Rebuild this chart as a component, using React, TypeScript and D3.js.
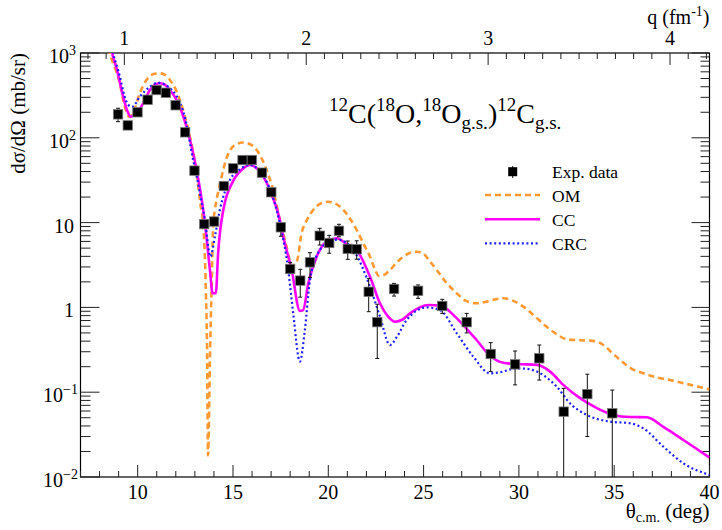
import { useMemo } from 'react'
import * as d3 from 'd3'

// experimental points: theta (deg), cross section (mb/sr), error bar bounds
const expTheta = [8.97, 9.48, 9.99, 10.52, 10.99, 11.48, 11.99, 12.49, 12.98, 13.49, 14.01, 14.52, 15.01, 15.5, 15.99, 16.52, 17.01, 17.51, 18.0, 18.53, 19.04, 19.55, 20.05, 20.56, 21.02, 21.49, 22.12, 22.57, 23.45, 24.71, 25.98, 27.26, 28.52, 29.8, 31.07, 32.35, 33.59, 34.9]
const expSigma = [189, 140, 200, 281, 366, 340, 242, 116, 41, 9.6, 10.3, 27, 43.6, 54.7, 54.7, 38.8, 22.8, 8.8, 2.84, 2.07, 3.4, 7.0, 5.75, 8.0, 4.9, 4.85, 1.53, 0.67, 1.65, 1.57, 1.04, 0.67, 0.282, 0.213, 0.251, 0.059, 0.095, 0.0564]
const expLow = [155, 130, 186, 262, 340, 316, 225, 108, 38, 8.9, 9.5, 25, 40.5, 51, 51, 36, 21, 6.9, 2.5, 1.32, 2.26, 5.44, 4.35, 6.82, 3.69, 3.7, 0.89, 0.25, 1.36, 1.28, 0.85, 0.5, 0.175, 0.122, 0.139, 0.0001, 0.03, 0.0001]
const expHigh = [223, 150, 214, 300, 392, 364, 259, 124, 44, 10.3, 11.1, 29, 46.7, 58.5, 58.5, 41.5, 24.6, 9.8, 3.4, 2.81, 4.42, 8.57, 7.08, 9.55, 6.07, 6.1, 2.2, 1.09, 1.92, 1.84, 1.245, 0.85, 0.384, 0.306, 0.36, 0.111, 0.163, 0.106]

// optical model
const omTheta = [8.4, 8.54, 8.8, 9.06, 9.24, 9.4, 9.55, 9.75, 10.11, 10.46, 10.8, 11.16, 11.45, 11.69, 12.0, 12.21, 12.47, 12.74, 13.09, 13.3, 13.43, 13.58, 13.64, 13.69, 13.8, 13.87, 13.97, 14.05, 14.31, 14.75, 15.1, 15.54, 15.9, 16.24, 16.76, 17.11, 17.45, 17.81, 18.08, 18.35, 18.6, 18.9, 19.21, 19.6, 20.0, 20.4, 20.79, 21.15, 21.49, 21.85, 22.19, 22.45, 22.65, 22.9, 23.24, 23.6, 23.94, 24.3, 24.64, 25.0, 25.2, 25.69, 26.2, 26.74, 27.2, 27.79, 28.31, 28.8, 29.18, 29.6, 30.23, 30.8, 31.46, 32.0, 32.51, 33.2, 34.0, 34.43, 34.9, 35.31, 35.9, 36.53, 37.2, 37.93, 39.0, 40]
const omSigma = [1500, 1000, 680, 440, 280, 205, 177, 195, 335, 481, 560, 576, 550, 481, 370, 279, 180, 103, 38, 16, 10, 1.47, 0.32, 0.018, 0.32, 1.47, 10, 14, 28, 65, 82, 88, 84, 72, 42, 24, 11, 5.2, 3.1, 3.5, 7.5, 11, 14.1, 16.8, 17.6, 16.6, 14.1, 11, 8.2, 5.6, 3.96, 2.8, 2.35, 2.4, 2.76, 3.4, 3.96, 4.4, 4.54, 4.3, 3.8, 2.76, 1.95, 1.47, 1.2, 1.12, 1.17, 1.25, 1.28, 1.22, 1.02, 0.8, 0.59, 0.48, 0.42, 0.41, 0.4, 0.36, 0.29, 0.24, 0.19, 0.167, 0.15, 0.139, 0.122, 0.108]

// coupled channels
const ccTheta = [8.5, 8.66, 8.9, 9.24, 9.45, 9.64, 9.85, 10.29, 10.64, 11.13, 11.4, 11.69, 12.04, 12.56, 13.09, 13.44, 13.53, 13.79, 13.93, 14.1, 14.22, 14.49, 15.01, 15.54, 15.89, 16.41, 16.94, 17.46, 17.64, 18.08, 18.51, 18.68, 18.95, 19.39, 19.91, 20.44, 21.0, 21.49, 22.19, 22.71, 23.1, 23.5, 23.9, 24.29, 24.8, 25.25, 25.6, 26.03, 26.6, 27.26, 27.79, 28.48, 29.18, 29.88, 30.94, 31.64, 32.33, 33.21, 34.09, 34.96, 35.84, 36.71, 37.58, 38.63, 40]
const ccSigma = [1500, 1000, 650, 305, 210, 177, 190, 255, 366, 440, 425, 366, 279, 135, 41.7, 14.1, 9.8, 2.76, 1.47, 1.47, 4.35, 14.1, 31, 43.6, 47.8, 39.8, 24.2, 10.7, 6.8, 2.76, 0.91, 0.93, 1.92, 3.96, 5.96, 6.53, 5.5, 4.75, 2.3, 1.12, 0.8, 0.678, 0.72, 0.85, 1.0, 1.067, 1.06, 1.02, 0.8, 0.56, 0.41, 0.27, 0.222, 0.215, 0.21, 0.175, 0.122, 0.085, 0.065, 0.054, 0.051, 0.0506, 0.039, 0.0273, 0.017]

// coupled reaction channels
const crcTheta = [8.55, 8.71, 9.0, 9.41, 9.6, 9.73, 10.11, 10.64, 11.07, 11.6, 12.47, 12.91, 13.1, 13.3, 13.53, 13.82, 14.05, 14.31, 14.84, 15.4, 15.85, 16.4, 16.9, 17.46, 17.9, 18.16, 18.51, 18.77, 19.04, 19.56, 20.26, 20.5, 21.31, 22.19, 22.71, 23.24, 23.6, 24.11, 25.16, 25.86, 26.74, 27.61, 28.48, 29.0, 29.88, 30.3, 30.94, 31.99, 32.68, 33.56, 34.78, 35.84, 36.53, 37.58, 38.63, 40]
const crcSigma = [1500, 1000, 600, 267, 236, 233, 305, 400, 447, 400, 177, 54.7, 35, 20, 10.7, 3.96, 6.8, 14.1, 31.8, 43, 48, 41, 26, 9.8, 2.76, 0.85, 0.23, 0.54, 2.1, 4.75, 6.2, 6.3, 4.75, 1.75, 0.78, 0.36, 0.45, 0.71, 1.0, 0.93, 0.495, 0.262, 0.167, 0.172, 0.191, 0.19, 0.175, 0.116, 0.074, 0.054, 0.045, 0.043, 0.0375, 0.0228, 0.0145, 0.0106]

const legendLabels = ['Exp. data', 'OM', 'CC', 'CRC']

const thetaRange = [7, 40]
const sigmaRange = [0.01, 1000]
const qRange = [0.759, 4.217]

const box = { left: 80.5, right: 709.5, top: 53, bottom: 477 }
const font = "'Liberation Serif', 'DejaVu Serif', serif"

const curveStyles = [
    { theta: omTheta, sigma: omSigma, stroke: '#ff9933', width: 2.6, dash: '6,4' },
    { theta: ccTheta, sigma: ccSigma, stroke: '#ff00ff', width: 2.6, dash: null },
    { theta: crcTheta, sigma: crcSigma, stroke: '#1f1fff', width: 2.2, dash: '2,2.6' }
]

const Pow = ({ x, y, exp }) => (
    <text x={x} y={y} fontSize={20} textAnchor="end">
        10
        <tspan fontSize={14} dy={-8}>
            {exp}
        </tspan>
    </text>
)

export default function App() {
    const x = useMemo(
        () => d3.scaleLinear().domain(thetaRange).range([box.left, box.right]),
        []
    )
    const y = useMemo(
        () => d3.scaleLog().domain(sigmaRange).range([box.bottom, box.top]),
        []
    )
    const q = useMemo(
        () => d3.scaleLinear().domain(qRange).range([box.left, box.right]),
        []
    )

    const line = d3
        .line()
        .x((d) => x(d[0]))
        .y((d) => y(d[1]))
        .curve(d3.curveMonotoneX)

    const yTicks = y.ticks()
    const xTicks = d3.range(thetaRange[0], thetaRange[1] + 1, 1)
    const qTicks = d3.range(8, 43).map((v) => v / 10)
    const clampY = (v) => Math.min(box.bottom, Math.max(box.top, y(Math.max(v, 1e-6))))

    return (
        <svg
            width={722}
            height={530}
            style={{ position: 'absolute', left: 0, top: 0, background: '#fff', fontFamily: font }}
        >
            <defs>
                <clipPath id="plot">
                    <rect
                        x={box.left}
                        y={box.top}
                        width={box.right - box.left}
                        height={box.bottom - box.top}
                    />
                </clipPath>
            </defs>

            {/* frame */}
            <rect
                x={box.left}
                y={box.top}
                width={box.right - box.left}
                height={box.bottom - box.top}
                fill="none"
                stroke="#000"
                strokeWidth={1.2}
            />

            {/* bottom theta axis */}
            {xTicks.map((t) => {
                const major = t % 5 === 0
                return (
                    <g key={`x${t}`}>
                        <line
                            x1={x(t)}
                            x2={x(t)}
                            y1={box.bottom}
                            y2={box.bottom - (major ? 12 : 6)}
                            stroke="#222"
                        />
                        {major && t >= 10 && (
                            <text x={x(t)} y={499} fontSize={20} textAnchor="middle">
                                {t}
                            </text>
                        )}
                    </g>
                )
            })}

            {/* top q axis */}
            {qTicks.map((t) => {
                const major = Math.abs(t - Math.round(t)) < 1e-6
                return (
                    <g key={`q${t}`}>
                        <line
                            x1={q(t)}
                            x2={q(t)}
                            y1={box.top}
                            y2={box.top + (major ? 12 : 6)}
                            stroke="#222"
                        />
                        {major && (
                            <text x={q(t)} y={44.5} fontSize={20} textAnchor="middle">
                                {Math.round(t)}
                            </text>
                        )}
                    </g>
                )
            })}

            {/* log y axes */}
            {yTicks.map((t) => {
                const lg = Math.log10(t)
                const major = Math.abs(lg - Math.round(lg)) < 1e-6
                const e = Math.round(lg)
                return (
                    <g key={`y${t}`}>
                        <line
                            x1={box.left}
                            x2={box.left + (major ? 19 : 10)}
                            y1={y(t)}
                            y2={y(t)}
                            stroke="#222"
                        />
                        <line
                            x1={box.right}
                            x2={box.right - (major ? 18 : 9)}
                            y1={y(t)}
                            y2={y(t)}
                            stroke="#222"
                        />
                        {major &&
                            (e === 0 || e === 1 ? (
                                <text x={74} y={y(t) + 10} fontSize={20} textAnchor="end">
                                    {e === 0 ? '1' : '10'}
                                </text>
                            ) : (
                                <Pow
                                    x={e < 0 ? 78 : 76}
                                    y={y(t) + 10}
                                    exp={e < 0 ? `\u2212${-e}` : `${e}`}
                                />
                            ))}
                    </g>
                )
            })}

            {/* axis titles */}
            <text x={709.5} y={518} fontSize={21} textAnchor="end">
                θ
                <tspan fontSize={14} dy={4}>
                    c.m.
                </tspan>
                <tspan dy={-4}> (deg)</tspan>
            </text>
            <text x={709.5} y={24} fontSize={20} textAnchor="end">
                q (fm
                <tspan fontSize={14} dy={-8}>
                    -1
                </tspan>
                <tspan dy={8}>)</tspan>
            </text>
            <text transform="translate(25,53) rotate(-90)" fontSize={21} textAnchor="end">
                dσ/dΩ (mb/sr)
            </text>

            {/* reaction label */}
            <text x={329} y={123} fontSize={28}>
                <tspan fontSize={19} dy={-12}>12</tspan>
                <tspan dy={12}>C(</tspan>
                <tspan fontSize={19} dy={-12}>18</tspan>
                <tspan dy={12}>O,</tspan>
                <tspan fontSize={19} dy={-12}>18</tspan>
                <tspan dy={12}>O</tspan>
                <tspan fontSize={19} dy={6}>g.s.</tspan>
                <tspan dy={-6}>)</tspan>
                <tspan fontSize={19} dy={-12}>12</tspan>
                <tspan dy={12}>C</tspan>
                <tspan fontSize={19} dy={6}>g.s.</tspan>
            </text>

            {/* calculations */}
            <g clipPath="url(#plot)">
                {curveStyles.map((c, i) => (
                    <path
                        key={i}
                        d={line(c.theta.map((t, j) => [t, c.sigma[j]]))}
                        fill="none"
                        stroke={c.stroke}
                        strokeWidth={c.width}
                        strokeDasharray={c.dash || undefined}
                    />
                ))}
            </g>

            {/* data */}
            <g>
                {expTheta.map((t, i) => {
                    const lo = clampY(expLow[i])
                    const hi = clampY(expHigh[i])
                    return (
                        <g key={`e${i}`}>
                            <line x1={x(t)} x2={x(t)} y1={lo} y2={hi} stroke="#111" />
                            <line x1={x(t) - 2} x2={x(t) + 2} y1={hi} y2={hi} stroke="#111" />
                            {lo < box.bottom && (
                                <line x1={x(t) - 2} x2={x(t) + 2} y1={lo} y2={lo} stroke="#111" />
                            )}
                        </g>
                    )
                })}
                {expTheta.map((t, i) => (
                    <rect
                        key={`m${i}`}
                        x={x(t) - 4.7}
                        y={y(expSigma[i]) - 4.7}
                        width={9.4}
                        height={9.4}
                        fill="#000"
                        stroke="#777"
                        strokeWidth={0.8}
                    />
                ))}
            </g>

            {/* legend */}
            <g fontSize={17.5}>
                <line x1={512.7} x2={512.7} y1={166} y2={178} stroke="#111" />
                <rect x={508.2} y={167.2} width={9} height={9} fill="#000" />
                {curveStyles.map((c, i) => (
                    <line
                        key={`l${i}`}
                        x1={485}
                        x2={540}
                        y1={195 + i * 24.2}
                        y2={195 + i * 24.2}
                        stroke={c.stroke}
                        strokeWidth={c.width}
                        strokeDasharray={c.dash || undefined}
                    />
                ))}
                {legendLabels.map((l, i) => (
                    <text key={l} x={552} y={177.5 + i * 24}>
                        {l}
                    </text>
                ))}
            </g>
        </svg>
    )
}
